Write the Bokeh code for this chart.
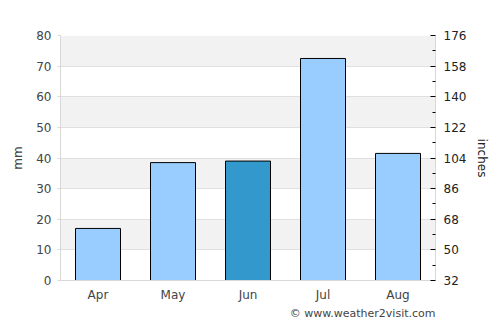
from bokeh.plotting import figure
from bokeh.models import LinearAxis, Range1d, FixedTicker, Title
from bokeh.embed import file_html
from bokeh.resources import INLINE

months = ["Apr", "May", "Jun", "Jul", "Aug"]
rain_mm = [17, 38.5, 39, 72.5, 41.5]
colors = ["#99ccff", "#99ccff", "#3399cc", "#99ccff", "#99ccff"]
left_ticks = [0, 10, 20, 30, 40, 50, 60, 70, 80]
right_ticks = [32, 50, 68, 86, 104, 122, 140, 158, 176]
right_minor = [41, 59, 77, 95, 113, 131, 149, 167]

FONT = "DejaVu Sans"

p = figure(x_range=months, y_range=Range1d(0, 80), width=500, height=325,
           output_backend="svg", toolbar_location=None,
           min_border_left=60, min_border_right=65, min_border_top=35, min_border_bottom=45)
p.extra_y_ranges = {"r": Range1d(32, 176)}

p.vbar(x=months, top=rain_mm, width=0.6, fill_color=colors, line_color="black", line_width=1)

p.outline_line_color = None
p.background_fill_color = "white"

# grid with bands
p.xgrid.grid_line_color = None
p.ygrid.ticker = FixedTicker(ticks=left_ticks)
p.ygrid.grid_line_color = "#e0e0e0"
p.ygrid.band_fill_color = "#f2f2f2"
p.ygrid.band_fill_alpha = 1.0

# left axis
la = p.yaxis[0]
la.ticker = FixedTicker(ticks=left_ticks)
la.axis_label = "mm"
la.axis_line_color = "#d8d8d8"
la.major_tick_line_color = "#d8d8d8"
la.major_tick_out = 3
la.major_tick_in = 0
la.minor_tick_line_color = None
la.major_label_text_font = FONT
la.major_label_text_font_size = "12px"
la.major_label_text_color = "#444444"
la.axis_label_text_font = FONT
la.axis_label_text_font_size = "12px"
la.axis_label_text_font_style = "normal"
la.axis_label_text_color = "#444444"
la.major_label_standoff = 6
la.axis_label_standoff = 8

# right axis
ra = LinearAxis(y_range_name="r", ticker=FixedTicker(ticks=right_ticks, minor_ticks=right_minor))
ra.axis_label = "inches"
ra.axis_line_color = "#d8d8d8"
ra.major_tick_line_color = "black"
ra.minor_tick_line_color = "black"
ra.major_tick_out = 0
ra.major_tick_in = 5
ra.minor_tick_out = 0
ra.minor_tick_in = 3
ra.major_label_text_font = FONT
ra.major_label_text_font_size = "12px"
ra.major_label_text_color = "#222222"
ra.axis_label_text_font = FONT
ra.axis_label_text_font_size = "12px"
ra.axis_label_text_font_style = "normal"
ra.axis_label_text_color = "#222222"
ra.major_label_standoff = 8
ra.axis_label_standoff = 6
p.add_layout(ra, "right")

# x axis
xa = p.xaxis[0]
xa.axis_line_color = "#d8d8d8"
xa.major_tick_line_color = None
xa.minor_tick_line_color = None
xa.major_tick_out = 0
xa.major_label_text_font = FONT
xa.major_label_text_font_size = "12px"
xa.major_label_text_color = "#444444"
xa.major_label_standoff = 7

t = Title(text="© www.weather2visit.com", align="right", text_font=FONT,
          text_font_size="11px", text_font_style="normal", text_color="#444444",
          standoff=0, offset=0)
p.add_layout(t, "below")

open("out.html", "w").write(file_html(p, INLINE))
